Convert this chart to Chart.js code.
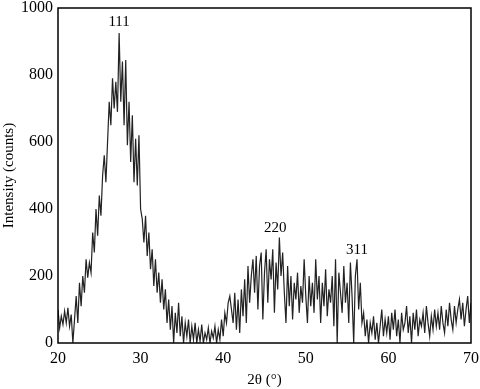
<!DOCTYPE html>
<html>
<head>
<meta charset="utf-8">
<script src="https://cdn.jsdelivr.net/npm/chart.js@4.4.1/dist/chart.umd.min.js"></script>
<style>
  html, body { margin: 0; padding: 0; background: #fff; }
  #wrap { width: 480px; height: 389px; }
</style>
</head>
<body>
<div id="wrap"><canvas id="myChart" width="480" height="389"></canvas></div>
<script>
// 2theta from 20 to 70 in 0.2 deg steps
var startAngle = 20;
var stepAngle = 0.2;
var intensity = [
  100, 45, 80, 55, 95,
  60, 105, 50, 85, 0,
  70, 140, 60, 180, 110,
  200, 150, 250, 195, 240,
  210, 330, 270, 400, 320,
  440, 380, 500, 560, 480,
  600, 720, 650, 790, 700,
  780, 690, 925, 720, 840,
  650, 845, 590, 720, 540,
  680, 480, 610, 470, 620,
  400, 370, 300, 380, 260,
  330, 220, 280, 170, 250,
  150, 210, 120, 190, 100,
  160, 60, 130, 40, 110,
  0, 90, 30, 120, 20,
  80, 0, 60, 20, 70,
  0, 50, 10, 60, 0,
  40, 5, 55, 0, 30,
  10, 45, 0, 35, 15,
  50, 0, 40, 10, 70,
  20, 90, 60, 120, 140,
  100, 60, 150, 40, 130,
  30, 160, 80, 190, 60,
  230, 120, 200, 250, 150,
  260, 100, 230, 270, 70,
  210, 280, 120, 250, 190,
  280, 90, 240, 160, 315,
  200, 270, 150, 60, 230,
  110, 200, 70, 180, 130,
  210, 90, 170, 120, 250,
  140, 60, 200, 110, 180,
  90, 250, 130, 200, 60,
  180, 110, 220, 80, 160,
  120, 200, 50, 250, 0,
  210, 150, 90, 230, 120,
  180, 60, 240, 140, 0,
  200, 250, 100, 180, 60,
  90, 20, 70, 0, 60,
  30, 80, 10, 60, 0,
  50, 100, 20, 70, 30,
  80, 10, 90, 40, 100,
  20, 70, 0, 90, 40,
  60, 110, 30, 80, 0,
  90, 40, 100, 20, 70,
  50, 90, 30, 110, 60,
  20, 80, 40, 100, 50,
  90, 40, 110, 60, 30,
  100, 50, 120, 70, 40,
  110, 60, 100, 130, 70,
  120, 50, 100, 140, 60,
  120
];
var peakNames = ['111', '220', '311'];
var peakAngles = [27.4, 46.3, 56.2];
var peakLabelHeights = [958, 343, 278];
var xTicks = [20, 30, 40, 50, 60, 70];
var yTicks = [0, 200, 400, 600, 800, 1000];

var points = intensity.map(function (v, i) {
  return { x: +(startAngle + i * stepAngle).toFixed(1), y: v };
});

var fontFamily = '"Liberation Serif", "DejaVu Serif", serif';

var peakLabels = {
  id: 'peakLabels',
  afterDatasetsDraw: function (chart) {
    var c = chart.ctx, xs = chart.scales.x, ys = chart.scales.y;
    c.save();
    c.fillStyle = '#000';
    c.font = '15px ' + fontFamily;
    c.textAlign = 'center';
    c.textBaseline = 'middle';
    for (var i = 0; i < peakNames.length; i++) {
      c.fillText(peakNames[i], xs.getPixelForValue(peakAngles[i]), ys.getPixelForValue(peakLabelHeights[i]));
    }
    c.restore();
  },
  afterDraw: function (chart) {
    var a = chart.chartArea, c = chart.ctx;
    c.save();
    c.strokeStyle = '#000';
    c.lineWidth = 1.5;
    c.strokeRect(a.left, a.top, a.right - a.left, a.bottom - a.top);
    c.restore();
  }
};

var ctx = document.getElementById('myChart').getContext('2d');
var chart = new Chart(ctx, {
  type: 'line',
  data: {
    datasets: [{
      label: 'XRD',
      data: points,
      borderColor: '#222',
      borderWidth: 1.2,
      pointRadius: 0,
      tension: 0,
      fill: false
    }]
  },
  options: {
    responsive: false,
    animation: false,
    layout: { autoPadding: false, padding: { top: 8, right: 9, left: 0, bottom: 0 } },
    plugins: { legend: { display: false }, tooltip: { enabled: false } },
    scales: {
      x: {
        type: 'linear',
        min: 20, max: 70,
        afterBuildTicks: function (s) { s.ticks = xTicks.map(function (v) { return { value: v }; }); },
        afterFit: function (s) { s.height = 46; s.paddingLeft = 0; s.paddingRight = 0; },
        grid: { display: false, drawTicks: false },
        border: { display: false },
        ticks: { color: '#000', padding: 6, maxRotation: 0, font: { family: fontFamily, size: 16 } },
        title: { display: true, text: '2θ (°)', color: '#000', padding: { top: 3, bottom: 0 }, font: { family: fontFamily, size: 15 } }
      },
      y: {
        min: 0, max: 1000,
        afterBuildTicks: function (s) { s.ticks = yTicks.map(function (v) { return { value: v }; }); },
        afterFit: function (s) { s.width = 58; s.paddingTop = 0; s.paddingBottom = 0; },
        grid: { display: false, drawTicks: false },
        border: { display: false },
        ticks: {
          color: '#000', padding: 5, font: { family: fontFamily, size: 16 },
          callback: function (v) { return String(v); }
        },
        title: { display: true, text: 'Intensity (counts)', color: '#000', padding: { top: 0, bottom: 0 }, font: { family: fontFamily, size: 15 } }
      }
    }
  },
  plugins: [peakLabels]
});
</script>
</body>
</html>
